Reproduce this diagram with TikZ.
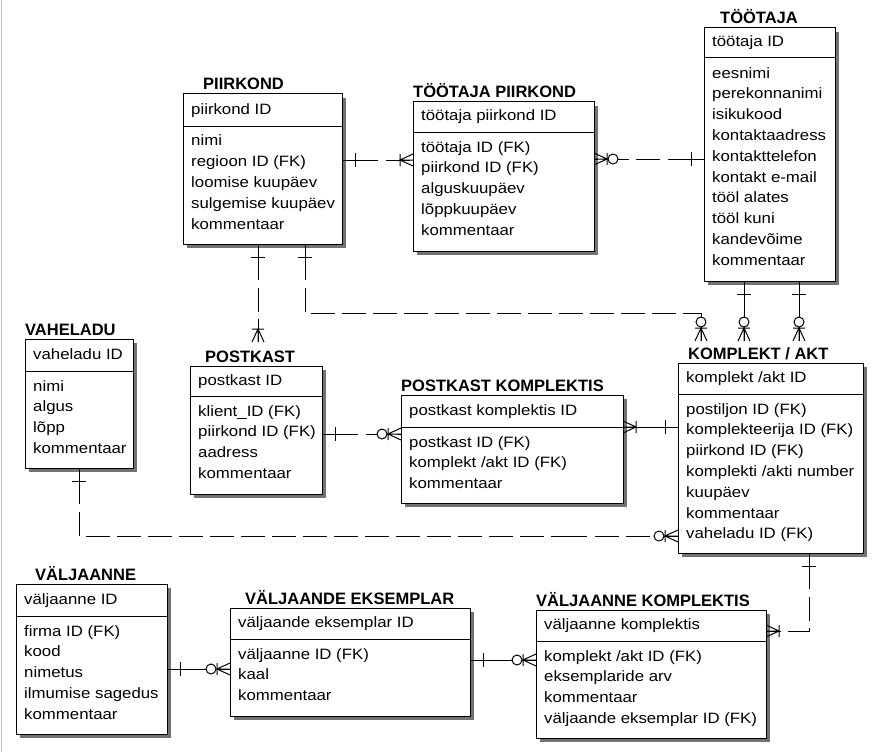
\documentclass[tikz,border=0pt]{standalone}
\usepackage{fontspec}
\setmainfont{Liberation Sans}
\newfontfamily\bodyfont[FakeStretch=1.12]{Liberation Sans}
\tikzset{
  ent/.style={draw, fill=white, line width=1pt, inner sep=0pt, outer sep=0pt, anchor=north west},
  shd/.style={fill=black!55, draw=none},
  fld/.style={font=\bodyfont\fontsize{15}{18}\selectfont, inner sep=0pt, text height=11pt, text depth=3pt, anchor=west},
  ttl/.style={font=\bfseries\fontsize{16.5}{19}\selectfont, inner sep=0pt, anchor=base west},
  rel/.style={line width=1pt},
  reld/.style={line width=1pt, dash pattern=on 36pt off 8pt on 24pt off 7pt on 24pt off 7pt on 24pt off 7pt on 24pt off 7pt on 24pt off 7pt on 24pt off 7pt on 24pt off 7pt on 24pt off 7pt on 24pt off 7pt on 24pt off 7pt on 24pt off 7pt on 24pt off 7pt on 24pt off 7pt on 24pt off 7pt on 24pt off 7pt on 24pt off 7pt},
  pics/many/.style={code={\draw[line width=1pt] (0,-6) -- (13,0) -- (0,6) (0,0) -- (13,0) (13,-6) -- (13,6);}},
  pics/zmany/.style={code={\draw[line width=1pt] (0,-6) -- (13,0) -- (0,6) (0,0) -- (13,0) (13,-6) -- (13,6);
      \draw[line width=1pt, fill=white] (19,0) circle[radius=5];}},
  pics/onebar/.style={code={\draw[line width=1pt] (13,-7) -- (13,7);}},
}
\newcommand{\erent}[9]{%
  \fill[shd] (#2+4,#3+4) rectangle (#4+4,#6+4);
  \node[ent, minimum width={(#4-#2)*1pt}, minimum height={(#6-#3)*1pt}] (#1) at (#2,#3) {};
  \draw[line width=1pt] (#2,#5) -- (#4,#5);
  \node[ttl] (#1-t) at (#2+#7,#3-4) {#8};
  \node[fld] (#1-h) at ({#2+8},{(#3+#5)/2}) {#9};
  \def\curL{#2}\def\curD{#5}\def\curN{#1}%
}
\newcommand{\erbody}[1]{%
  \foreach \rowtxt [count=\rowidx from 0] in {#1} {\node[fld] (\curN-\rowidx) at (\curL+8,\curD+16+20.8*\rowidx) {\rowtxt};}
}
\begin{document}
\begin{tikzpicture}[x=1pt,y=-1pt]
\useasboundingbox (0,0) rectangle (879,752);
\draw[black!25, line width=1pt] (1.5,0) -- (1.5,752);

% entities
\erent{piir}{183}{94}{342}{126}{244}{20}{PIIRKOND}{piirkond ID}
\erbody{nimi,regioon ID (FK),loomise kuupäev,sulgemise kuupäev,kommentaar}
\erent{tpiir}{413}{102}{594}{132}{251}{0}{TÖÖTAJA PIIRKOND}{töötaja piirkond ID}
\erbody{töötaja ID (FK),piirkond ID (FK),alguskuupäev,lõppkuupäev,kommentaar}
\erent{toot}{704}{28}{835}{58}{281}{16}{TÖÖTAJA}{töötaja ID}
\erbody{eesnimi,perekonnanimi,isikukood,kontaktaadress,kontakttelefon,kontakt e-mail,tööl alates,tööl kuni,kandevõime,kommentaar}
\erent{vahe}{25}{339}{133}{371}{468}{0}{VAHELADU}{vaheladu ID}
\erbody{nimi,algus,lõpp,kommentaar}
\erent{post}{190}{366}{322}{396}{494}{15}{POSTKAST}{postkast ID}
\erbody{klient\_ID (FK),piirkond ID (FK),aadress,kommentaar}
\erent{pkomp}{401}{395}{623}{427}{503}{0}{POSTKAST KOMPLEKTIS}{postkast komplektis ID}
\erbody{postkast ID (FK),komplekt /akt ID (FK),kommentaar}
\erent{komp}{678}{363}{863}{394}{553}{10}{KOMPLEKT / AKT}{komplekt /akt ID}
\erbody{postiljon ID (FK),komplekteerija ID (FK),piirkond ID (FK),komplekti /akti number,kuupäev,kommentaar,vaheladu ID (FK)}
\erent{valj}{16}{584}{167}{616}{734}{19}{VÄLJAANNE}{väljaanne ID}
\erbody{firma ID (FK),kood,nimetus,ilmumise sagedus,kommentaar}
\erent{vekse}{230}{608}{470}{639}{716}{15}{VÄLJAANDE EKSEMPLAR}{väljaande eksemplar ID}
\erbody{väljaanne ID (FK),kaal,kommentaar}
\erent{vkomp}{536}{610}{766}{641}{738}{0}{VÄLJAANNE KOMPLEKTIS}{väljaanne komplektis}
\erbody{komplekt /akt ID (FK),eksemplaride arv,kommentaar,väljaande eksemplar ID (FK)}

% connector end points
\coordinate (piir-c1) at (342,160);  \coordinate (tpiir-c1) at (413,160);
\coordinate (toot-c2) at (704,159);  \coordinate (tpiir-c2) at (594,159);
\coordinate (toot-c3) at (744,281);  \coordinate (komp-c3) at (744,341);
\coordinate (toot-c4) at (799,281);  \coordinate (komp-c4) at (799,341);
\coordinate (piir-c5) at (305,244);  \coordinate (c5a) at (305,313); \coordinate (komp-c5) at (701,341);
\coordinate (piir-c6) at (258,244);  \coordinate (post-c6) at (258,342);
\coordinate (post-c7) at (322,434);  \coordinate (pkomp-c7) at (401,434);
\coordinate (komp-c8) at (678,427);  \coordinate (pkomp-c8) at (623,427);
\coordinate (vahe-c9) at (79,468);   \coordinate (c9a) at (79,536); \coordinate (komp-c9) at (678,536);
\coordinate (komp-c10) at (809,553); \coordinate (c10a) at (809,631); \coordinate (vkomp-c10) at (766,631);
\coordinate (vekse-c11) at (470,660); \coordinate (vkomp-c11) at (536,660);
\coordinate (valj-c12) at (167,669); \coordinate (vekse-c12) at (230,669);

% connectors
\draw[reld] (piir-c1) -- (tpiir-c1);
\pic at (piir-c1) {onebar}; \pic[rotate=180] at (tpiir-c1) {many};

\draw[reld] (toot-c2) -- (tpiir-c2);
\pic[rotate=180] at (toot-c2) {onebar}; \pic at (tpiir-c2) {zmany};

\draw[rel] (toot-c3) -- (komp-c3);
\pic[rotate=-90] at (toot-c3) {onebar}; \pic[rotate=90] at (komp-c3) {zmany};

\draw[rel] (toot-c4) -- (komp-c4);
\pic[rotate=-90] at (toot-c4) {onebar}; \pic[rotate=90] at (komp-c4) {zmany};

\draw[reld] (piir-c5) -- (c5a) -| (komp-c5);
\pic[rotate=-90] at (piir-c5) {onebar}; \pic[rotate=90] at (komp-c5) {zmany};

\draw[reld] (piir-c6) -- (post-c6);
\pic[rotate=-90] at (piir-c6) {onebar}; \pic[rotate=90] at (post-c6) {many};

\draw[reld] (post-c7) -- (pkomp-c7);
\pic at (post-c7) {onebar}; \pic[rotate=180] at (pkomp-c7) {zmany};

\draw[rel] (komp-c8) -- (pkomp-c8);
\pic[rotate=180] at (komp-c8) {onebar}; \pic at (pkomp-c8) {many};

\draw[reld] (vahe-c9) -- (c9a) -- (komp-c9);
\pic[rotate=-90] at (vahe-c9) {onebar}; \pic[rotate=180] at (komp-c9) {zmany};

\draw[reld] (komp-c10) -- (c10a) -- (vkomp-c10);
\pic[rotate=-90] at (komp-c10) {onebar}; \pic at (vkomp-c10) {many};

\draw[rel] (vekse-c11) -- (vkomp-c11);
\pic at (vekse-c11) {onebar}; \pic[rotate=180] at (vkomp-c11) {zmany};

\draw[rel] (valj-c12) -- (vekse-c12);
\pic at (valj-c12) {onebar}; \pic[rotate=180] at (vekse-c12) {zmany};
\end{tikzpicture}
\end{document}
